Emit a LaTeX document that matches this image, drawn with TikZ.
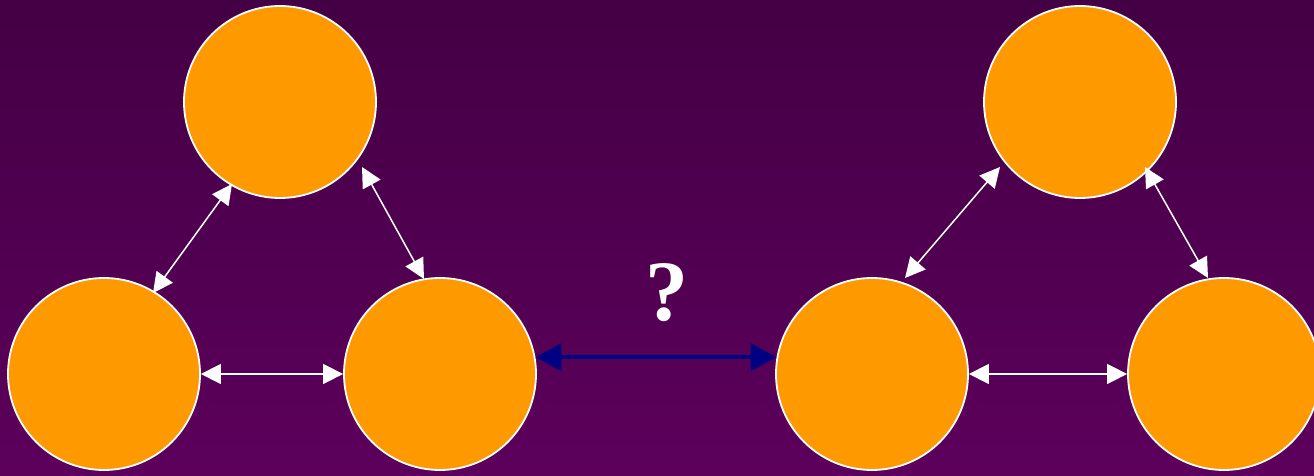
\documentclass[tikz,border=0pt]{standalone}
\usepackage{fontspec}
\setmainfont{Liberation Serif}
\usetikzlibrary{arrows.meta,calc}
\definecolor{bgtop}{HTML}{440044}
\definecolor{bgbot}{HTML}{5C005C}
\definecolor{ball}{HTML}{FF9900}
\definecolor{navyarrow}{HTML}{000080}
\begin{document}
\begin{tikzpicture}[x=1pt,y=1pt,
  ballnode/.style={circle, fill=ball, draw=white, line width=1.8pt, minimum size=192pt, inner sep=0pt},
  link/.style={draw=white, line width=1.5pt, {Triangle[length=20pt,width=20pt]}-{Triangle[length=20pt,width=20pt]}},
  bigLink/.style={draw=navyarrow, line width=4pt, {Triangle[length=26pt,width=27pt]}-{Triangle[length=26pt,width=27pt]}}]
\useasboundingbox (0,0) rectangle (1314,475);
\clip (0,0) rectangle (1314,475);
\shade[top color=bgtop, bottom color=bgbot] (0,0) rectangle (1314,475);
% left group
\node[ballnode] (t1) at (280,373) {};
\node[ballnode] (bl1) at (104,101) {};
\node[ballnode] (bm1) at (440,101) {};
% right group
\node[ballnode] (t2) at (1080,373) {};
\node[ballnode] (bl2) at (872,101) {};
\node[ballnode] (br2) at (1224,101) {};
% links
\draw[link] ($(t1)+(-48,-82)$) -- ($(bl1)+(49,81)$);
\draw[link] ($(t1)+(82,-65)$) -- ($(bm1)+(-16,95)$);
\draw[link] (bl1.east) -- (bm1.west);
\draw[link] ($(t2)+(-80,-65)$) -- ($(bl2)+(33,96)$);
\draw[link] ($(t2)+(65,-65)$) -- ($(br2)+(-16,96)$);
\draw[link] (bl2.east) -- (br2.west);
\draw[bigLink] (bm1.10) -- (bl2.170);
\node[text=white, inner sep=0pt, font=\fontsize{86}{86}\selectfont\bfseries] (q) at (667,182) {?};
\end{tikzpicture}
\end{document}
